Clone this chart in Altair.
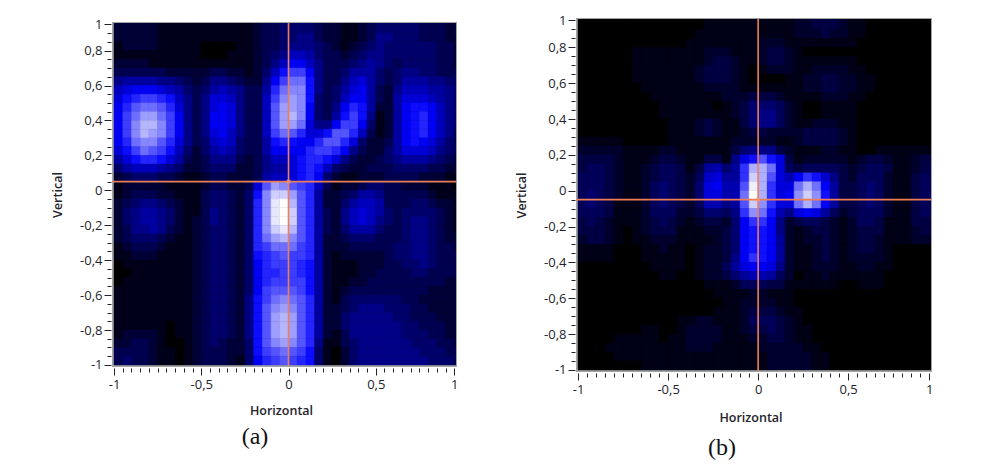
import altair as alt
import pandas as pd

# intensity levels: 0 black, about 10 pure blue, 20 white; rows run top to bottom, columns left to right
rows_a = [
[2,2,2,2,2,1,1,1,1,1,1,1,1,1,1,1,2,3,3,4,4,4,4,3,2,2,1,1,2,3,4,4,4,4,4,3,3,3,2,2],
[2,2,2,2,2,1,1,1,1,1,1,1,1,1,1,1,2,3,3,4,4,5,5,3,2,2,1,1,2,3,5,5,4,4,4,3,3,3,2,2],
[1,2,2,2,2,1,1,1,1,1,0,0,0,0,1,1,2,3,3,4,5,5,5,4,3,2,1,2,3,4,5,4,4,4,4,4,4,3,3,2],
[1,1,1,1,1,1,1,1,1,1,0,0,0,1,1,1,2,3,4,5,7,7,6,4,3,3,2,3,4,5,5,4,4,4,4,4,4,3,3,2],
[2,2,2,2,1,1,1,1,1,1,1,1,1,1,1,1,2,3,5,7,9,9,7,5,3,3,3,4,5,6,5,4,3,4,4,4,4,3,3,2],
[3,3,3,3,3,3,2,2,2,2,2,3,3,2,2,1,2,4,7,10,12,12,9,5,3,3,4,6,6,6,4,3,4,5,5,4,4,3,3,3],
[5,6,6,6,6,5,5,4,3,2,3,5,5,4,3,2,2,5,9,12,14,14,10,5,3,3,5,7,8,6,4,3,4,6,6,6,5,5,4,4],
[7,8,9,9,9,8,7,6,4,3,4,6,7,6,5,3,3,6,11,14,15,15,10,5,3,4,6,8,9,6,3,2,5,7,7,7,6,6,5,4],
[8,10,11,12,12,11,10,7,5,3,5,8,8,7,5,3,3,7,12,15,16,15,10,4,3,4,7,9,9,6,3,2,6,8,8,8,7,6,5,4],
[9,11,13,14,14,13,11,8,5,3,5,8,9,8,5,3,3,7,13,16,16,15,9,4,3,5,9,11,10,6,2,2,6,9,10,10,9,7,5,4],
[9,12,14,16,16,14,12,9,5,3,5,9,9,8,5,3,3,7,13,16,17,15,9,4,3,6,10,12,10,5,1,2,6,9,10,11,9,7,5,4],
[9,12,15,17,17,15,12,9,5,3,5,9,9,8,5,3,3,7,13,16,16,14,8,5,5,9,12,12,9,4,1,2,6,9,10,11,9,7,5,4],
[9,12,15,17,16,15,12,9,5,3,5,8,9,7,5,3,3,7,12,14,13,11,8,8,10,13,13,11,7,3,1,2,6,9,10,11,9,7,5,3],
[9,11,14,15,15,13,11,8,5,3,4,7,8,7,4,3,3,6,10,11,10,9,9,11,13,13,11,8,4,2,2,3,6,9,10,9,8,6,4,3],
[8,10,12,14,13,12,10,7,4,2,4,6,7,6,4,3,3,6,9,9,9,9,11,12,12,11,9,5,3,2,2,4,6,8,8,8,7,5,4,3],
[6,8,10,11,11,10,8,6,3,2,3,5,5,5,3,2,3,5,7,7,8,10,11,11,10,8,5,3,2,2,3,4,5,6,6,6,5,4,3,2],
[4,6,7,7,7,6,5,4,2,2,3,4,4,4,2,2,3,5,6,6,8,10,11,10,7,4,3,2,2,3,3,3,4,4,4,4,3,3,2,2],
[2,3,4,4,4,3,3,2,1,1,2,3,3,2,2,2,3,6,7,7,8,10,11,9,4,2,1,1,2,2,2,3,3,3,3,2,2,2,1,1],
[1,2,2,2,2,2,1,1,1,1,2,3,3,2,2,3,8,13,16,15,13,12,11,7,3,1,2,2,3,4,4,3,3,2,2,2,1,1,1,0],
[1,2,3,3,3,2,2,1,1,1,3,4,4,3,2,4,10,15,18,18,16,13,11,6,2,2,3,4,6,6,5,3,3,3,3,3,2,1,1,1],
[2,3,4,5,5,4,3,2,1,1,3,4,4,3,2,4,11,15,19,20,17,13,11,6,2,2,4,6,7,7,6,3,3,3,4,4,3,2,2,1],
[2,4,5,6,6,5,4,2,1,1,3,5,4,3,2,4,11,15,19,20,18,13,11,6,3,2,5,7,8,7,6,4,3,4,4,4,4,3,2,1],
[2,4,5,6,6,5,4,2,1,2,3,5,4,3,2,4,11,15,19,20,18,13,11,6,3,2,5,7,8,7,5,4,3,4,5,5,4,3,2,1],
[2,3,5,5,6,5,3,2,1,2,3,4,4,3,2,4,11,15,18,19,17,13,11,6,3,2,4,6,6,6,4,3,3,4,5,5,4,3,2,1],
[2,3,4,4,4,3,2,1,1,2,3,4,4,3,2,4,11,14,16,17,15,13,11,6,2,2,3,4,4,4,3,3,3,4,5,5,4,3,2,2],
[1,2,3,3,3,2,1,1,1,2,3,4,4,3,2,4,11,12,14,14,14,12,11,6,2,2,2,3,3,3,3,3,4,4,5,5,4,3,3,2],
[1,1,2,2,2,1,1,1,1,2,3,4,4,3,2,4,10,11,12,13,12,12,11,6,2,1,2,2,2,2,2,3,4,4,5,5,4,3,3,3],
[0,1,1,1,1,1,1,1,1,2,3,4,4,3,2,4,9,11,12,12,12,11,10,6,2,1,1,1,2,2,2,3,3,4,4,5,4,3,3,3],
[0,0,1,1,1,1,1,1,1,2,3,4,4,3,2,4,9,11,11,12,12,11,10,6,2,1,1,1,2,2,3,3,3,3,4,4,3,3,3,3],
[0,1,1,1,1,1,1,1,1,2,3,4,4,3,2,4,9,11,12,12,12,12,10,6,2,1,1,2,2,3,3,3,3,3,3,3,3,3,2,2],
[1,1,1,1,1,1,1,1,1,2,3,4,4,3,2,4,9,12,13,13,13,12,10,6,2,1,2,3,3,3,3,3,3,3,3,3,2,2,2,2],
[1,1,1,1,1,1,1,1,1,2,3,4,4,3,2,5,10,12,14,15,14,13,11,6,2,1,3,4,4,4,4,4,4,3,3,2,2,2,2,2],
[1,1,1,1,1,1,1,1,1,2,3,4,4,3,2,5,10,13,15,16,15,13,11,6,2,2,3,4,5,5,5,4,4,4,3,3,2,2,2,2],
[1,1,1,1,1,1,1,1,1,2,3,4,4,3,2,5,10,13,16,17,16,13,11,6,2,2,4,5,5,5,5,5,4,4,3,3,3,2,2,2],
[1,1,1,1,1,1,0,1,1,2,3,4,4,3,2,5,10,13,16,17,16,13,11,6,2,2,4,5,5,5,5,5,5,4,4,3,3,3,2,2],
[1,2,2,2,2,1,0,1,1,2,3,4,4,3,2,5,10,13,16,17,16,13,11,6,2,1,3,5,5,5,5,5,5,4,4,4,3,3,2,2],
[2,2,3,3,2,1,0,0,1,2,3,4,3,2,2,4,10,13,15,16,15,13,11,5,1,1,3,4,5,5,5,5,5,5,4,4,4,3,3,2],
[3,3,3,3,2,1,1,0,1,2,3,3,3,2,2,4,10,12,13,14,13,12,10,4,1,0,2,4,5,5,5,5,5,5,5,4,4,4,3,3],
[3,4,3,3,2,1,1,0,1,2,3,3,3,2,1,4,9,11,12,13,12,11,10,4,1,0,2,4,5,5,5,5,5,5,5,5,4,4,4,3],
]
rows_b = [
[0,0,0,0,0,0,0,0,0,0,0,0,0,0,1,1,1,1,1,1,1,1,1,1,2,2,3,3,3,2,1,1,0,0,0,0,0,0,0,0],
[0,0,0,0,0,0,0,0,0,0,0,0,0,1,1,1,1,1,1,1,1,1,1,1,2,2,2,3,2,2,1,1,0,0,0,0,0,0,0,0],
[0,0,0,0,0,0,0,0,0,0,0,0,1,1,1,1,1,1,1,1,2,2,2,1,1,1,1,1,1,1,1,0,0,0,0,0,0,0,0,0],
[0,0,0,0,0,0,1,1,1,1,1,1,1,1,2,2,2,1,1,1,2,3,3,2,1,0,0,0,0,0,0,0,0,0,0,0,0,0,0,0],
[0,0,0,0,0,0,1,1,1,1,1,1,1,1,2,3,3,2,1,1,2,3,3,2,1,1,1,1,1,1,1,0,0,0,0,0,0,0,0,0],
[0,0,0,0,0,0,1,1,1,1,1,1,1,2,3,3,3,2,1,0,1,2,2,2,1,1,2,2,2,2,1,1,0,0,0,0,0,0,0,0],
[0,0,0,0,0,0,1,1,1,1,1,1,1,2,3,3,3,2,1,0,0,0,0,1,1,2,2,3,3,2,2,1,1,0,0,0,0,0,0,0],
[0,0,0,0,0,0,0,1,1,1,1,1,1,1,2,2,2,2,1,1,1,1,1,1,1,2,2,3,3,2,2,1,1,0,0,0,0,0,0,0],
[0,0,0,0,0,0,0,0,1,1,1,1,1,1,1,1,2,2,2,3,3,3,2,1,1,1,1,2,2,2,1,1,0,0,0,0,0,0,0,0],
[0,0,0,0,0,0,0,0,0,1,1,1,1,1,1,0,1,2,3,5,5,5,4,2,1,0,0,1,1,1,1,0,0,0,0,0,0,0,0,0],
[0,0,0,0,0,0,0,0,0,1,1,1,1,1,1,1,1,2,3,5,6,6,4,2,1,0,0,1,1,1,1,0,0,0,0,0,0,0,0,0],
[0,0,0,0,0,0,0,0,0,0,1,1,1,2,3,2,1,1,3,5,6,6,4,2,1,1,2,2,2,1,1,0,0,0,0,0,0,0,0,0],
[0,0,0,0,0,0,0,0,0,0,1,1,1,2,3,2,1,1,2,3,3,2,2,2,2,3,3,3,3,2,1,0,0,0,0,0,0,0,0,0],
[1,1,1,1,1,0,0,0,0,0,1,1,1,1,1,1,1,2,2,2,2,2,1,1,2,3,3,3,3,2,1,0,0,0,0,0,0,0,0,0],
[2,2,2,2,2,1,1,1,1,2,2,1,1,1,1,1,1,3,5,6,6,6,3,2,1,1,1,2,2,1,1,0,0,1,1,1,1,1,1,1],
[3,3,3,3,2,1,1,1,2,3,3,2,1,1,3,3,1,6,10,12,14,12,10,3,1,2,2,2,2,2,1,2,3,3,2,1,1,2,3,3],
[3,4,4,3,2,1,1,2,3,4,4,3,1,3,7,8,5,7,13,17,17,15,10,4,3,4,4,4,4,3,2,3,4,4,3,1,1,2,3,4],
[4,4,4,3,2,1,1,2,3,4,4,3,2,4,9,10,7,7,13,18,17,14,10,8,11,13,12,9,6,3,2,4,4,4,2,1,1,3,4,4],
[4,4,4,3,2,1,1,2,4,5,4,3,2,5,10,11,8,8,14,19,17,13,10,10,15,17,15,11,7,3,3,4,5,4,2,1,1,3,4,4],
[4,5,4,3,2,1,1,2,4,5,4,3,2,5,10,10,8,8,15,20,17,13,10,11,16,18,16,12,7,3,3,4,5,4,2,1,1,3,4,5],
[4,5,4,3,1,1,1,2,4,5,4,3,2,4,8,8,6,7,14,18,16,13,10,10,15,17,15,11,7,3,3,4,5,4,2,1,1,3,4,4],
[4,4,4,3,1,1,1,2,4,4,4,2,2,3,5,5,4,6,13,16,15,12,8,6,10,11,10,7,4,2,3,4,4,4,2,1,1,3,4,4],
[3,4,3,2,1,1,1,2,3,4,3,2,1,2,3,3,2,5,11,13,13,11,6,2,3,4,4,3,2,1,2,4,4,3,1,1,1,3,3,3],
[3,3,3,2,1,0,1,2,3,3,3,1,1,1,2,2,3,5,11,12,12,11,6,2,1,2,3,3,2,1,2,3,3,3,1,1,1,2,3,3],
[2,3,3,2,1,0,1,1,2,2,2,1,1,1,1,2,3,5,11,12,12,11,7,2,1,2,2,3,2,1,2,3,3,2,1,1,1,2,2,2],
[1,1,1,1,0,0,0,1,1,2,1,1,0,1,2,2,3,5,11,12,12,11,7,2,1,1,2,3,2,1,2,3,3,2,1,0,0,0,0,0],
[1,1,1,1,0,0,0,1,1,1,1,1,0,1,2,2,3,6,11,13,12,11,7,2,1,1,2,3,2,1,2,2,2,2,1,0,0,0,0,0],
[0,0,0,0,0,0,0,0,1,1,1,1,0,1,2,2,4,7,10,11,11,10,6,2,1,1,2,2,2,1,1,2,2,1,1,0,0,0,0,0],
[0,0,0,0,0,0,0,0,0,1,1,0,0,1,2,2,3,5,7,8,8,7,4,2,0,1,1,2,1,1,1,1,1,1,0,0,0,0,0,0],
[0,0,0,0,0,0,0,0,0,0,0,0,0,0,1,1,1,2,4,4,4,3,3,1,1,1,1,1,1,0,0,1,1,1,0,0,0,0,0,0],
[0,0,0,0,0,0,0,0,0,0,0,0,0,0,0,1,1,1,1,2,2,1,1,1,0,0,0,0,0,0,0,0,0,0,0,0,0,0,0,0],
[0,0,0,0,0,0,0,0,0,0,0,0,0,0,0,0,1,1,2,2,2,2,1,1,0,0,0,0,0,0,0,0,0,0,0,0,0,0,0,0],
[0,0,0,0,0,0,0,0,0,0,0,0,0,0,0,1,1,1,2,3,3,3,2,1,1,0,0,0,0,0,0,0,0,0,0,0,0,0,0,0],
[0,0,0,0,0,0,0,0,0,0,0,1,1,2,2,1,1,1,2,4,4,4,3,2,1,0,0,0,0,0,0,0,0,0,0,0,0,0,0,0],
[0,0,0,0,0,0,0,1,1,0,0,1,2,2,2,2,1,1,2,3,3,4,3,2,1,1,0,0,0,0,0,0,0,0,0,0,0,0,0,0],
[0,0,0,0,1,1,1,1,1,0,1,1,2,2,2,2,1,1,1,2,2,3,3,2,1,1,0,0,0,0,0,0,0,0,0,0,0,0,0,0],
[0,0,0,1,1,1,1,1,1,1,1,1,2,2,2,1,1,1,1,1,2,2,2,2,2,1,1,0,0,0,0,0,0,0,0,0,0,0,0,0],
[0,0,0,0,1,1,1,1,1,1,1,1,1,1,1,1,1,1,1,1,1,2,2,2,2,2,1,1,0,0,0,0,0,0,0,0,0,0,0,0],
[0,0,0,0,0,0,0,1,1,1,1,1,1,1,1,1,1,1,1,1,1,2,2,2,2,2,1,1,0,0,0,0,0,0,0,0,0,0,0,0],
]

x_major = [-1, -0.5, 0, 0.5, 0.95]
x_minor = [-0.95,-0.9,-0.85,-0.8,-0.75,-0.7,-0.65,-0.6,-0.55,-0.45,-0.4,-0.35,-0.3,-0.25,-0.2,-0.15,-0.1,-0.05,
           0.05,0.1,0.15,0.2,0.25,0.3,0.35,0.4,0.45,0.55,0.6,0.65,0.7,0.75,0.8,0.85,0.9]
y_major = [-1,-0.8,-0.6,-0.4,-0.2,0,0.2,0.4,0.6,0.8,0.95]
y_minor = [-0.95,-0.9,-0.85,-0.75,-0.7,-0.65,-0.55,-0.5,-0.45,-0.35,-0.3,-0.25,-0.15,-0.1,-0.05,
           0.05,0.1,0.15,0.25,0.3,0.35,0.45,0.5,0.55,0.65,0.7,0.75,0.85,0.9]
cursor_a = (0, 0.05)
cursor_b = (0, -0.05)
levels_a = [0, 9.5, 20]
levels_b = [0, 11.5, 19.5]
LINE = "#ee7f55"
INK = "#23232b"
FONT = "Open Sans"
DOM_X = [-1.006, 0.96]
DOM_Y = [-1.006, 0.958]
LABEL = "datum.value > 0.9 ? '1' : replace('' + datum.value, '.', ',')"


def cells(rows):
    out = []
    for j, row in enumerate(rows):
        for c, v in enumerate(row):
            out.append({"x0": -1 + 0.05 * c, "x1": -1 + 0.05 * (c + 1),
                        "y1": 0.95 - 0.05 * j, "y0": 0.9 - 0.05 * j, "v": v})
            if j == 0:
                out.append({"x0": -1 + 0.05 * c, "x1": -1 + 0.05 * (c + 1),
                            "y1": 1.0, "y0": 0.95, "v": v})
    return pd.DataFrame(out)


def panel(rows, cursor, caption, cap_x, cap_y, w, h, levels, title_pad):
    sx = alt.Scale(domain=DOM_X, nice=False, zero=False)
    sy = alt.Scale(domain=DOM_Y, nice=False, zero=False)
    cs = alt.Scale(domain=levels, range=["#000000", "#0000ff", "#ffffff"], interpolate="rgb")
    common = dict(domain=False, grid=False, tickColor=INK, tickWidth=1, offset=2)
    heat = alt.Chart(cells(rows)).mark_rect(strokeWidth=0.5, clip=True).encode(
        x=alt.X("x0:Q", scale=sx, axis=alt.Axis(
            values=x_major, orient="bottom", labelExpr=LABEL, tickSize=7, title="Horizontal",
            labelFont=FONT, labelFontSize=13, labelColor=INK, labelPadding=3, labelFlush=False,
            titleFont=FONT, titleFontSize=12.5, titleFontWeight=600, titleColor=INK,
            titlePadding=title_pad, titleX=w / 2 - 3.5, **common)),
        x2="x1:Q",
        y=alt.Y("y0:Q", scale=sy, axis=alt.Axis(
            values=y_major, orient="left", labelExpr=LABEL, tickSize=7, title="Vertical",
            labelFont=FONT, labelFontSize=13, labelColor=INK, labelPadding=2, labelFlush=False,
            titleFont=FONT, titleFontSize=12.5, titleFontWeight=600, titleColor=INK, titlePadding=15, **common)),
        y2="y1:Q",
        color=alt.Color("v:Q", scale=cs, legend=None),
        stroke=alt.Stroke("v:Q", scale=cs, legend=None),
    )
    tx = pd.DataFrame({"t": x_minor})
    ty = pd.DataFrame({"t": y_minor})
    minor_x = alt.Chart(tx).mark_point(opacity=0).encode(
        x=alt.X("t:Q", scale=sx, axis=alt.Axis(values=x_minor, orient="bottom", labels=False, tickSize=4, title=None, **common)),
        y=alt.value(0))
    minor_y = alt.Chart(ty).mark_point(opacity=0).encode(
        y=alt.Y("t:Q", scale=sy, axis=alt.Axis(values=y_minor, orient="left", labels=False, tickSize=4, title=None, **common)),
        x=alt.value(0))
    cur = pd.DataFrame({"cx": [cursor[0]], "cy": [cursor[1]], "label": [caption]})
    vline = alt.Chart(cur).mark_rule(color=LINE, strokeWidth=1.6).encode(
        x=alt.X("cx:Q", scale=sx, axis=None))
    hline = alt.Chart(cur).mark_rule(color=LINE, strokeWidth=1.6).encode(
        y=alt.Y("cy:Q", scale=sy, axis=None))
    mark = alt.Chart(cur).mark_point(shape="M-1,-1L1,1M-1,1L1,-1", size=14, filled=False,
                                     color="#f4a58a", strokeWidth=1.2).encode(
        x=alt.X("cx:Q", scale=sx, axis=None), y=alt.Y("cy:Q", scale=sy, axis=None))
    cap = alt.Chart(cur).mark_text(font="Liberation Serif", fontSize=24, color="#111111", baseline="middle").encode(
        x=alt.value(cap_x), y=alt.value(cap_y), text="label:N")
    return alt.layer(heat, minor_x, minor_y, vline, hline, mark, cap).resolve_axis(
        x="independent", y="independent").properties(width=w, height=h)


a = panel(rows_a, cursor_a, "(a)", 142, 414, 343, 343, levels_a, 13)
b = panel(rows_b, cursor_b, "(b)", 145, 429, 354, 352, levels_b, 15)
spacer = alt.Chart(pd.DataFrame({"s": [0]})).mark_point(opacity=0).encode(
    x=alt.value(0), y=alt.value(0)).properties(width=1, height=1, view=alt.ViewConfig(stroke="transparent", fill="transparent"))
left = alt.vconcat(spacer, a, spacing=-7)
chart = alt.hconcat(left, b, spacing=55).resolve_scale(color="independent", stroke="independent").properties(
    padding={"left": 42, "top": 5, "right": 5, "bottom": 5}
).configure_view(stroke="#a3a3a3", strokeWidth=2, fill="#000010")
chart.save("out.html", embed_options={"renderer": "svg", "actions": False})
